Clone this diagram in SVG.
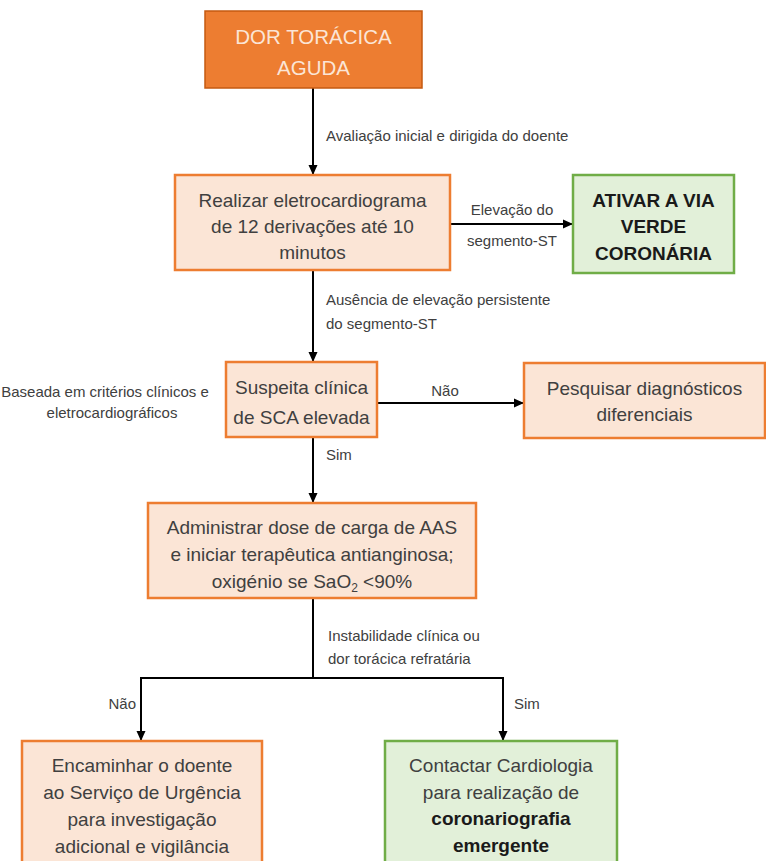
<svg xmlns="http://www.w3.org/2000/svg" width="766" height="861" viewBox="0 0 766 861">
<defs>
<marker id="ah" markerWidth="10" markerHeight="10" refX="9" refY="5" orient="auto" markerUnits="userSpaceOnUse">
<path d="M0,0.5 L10,5 L0,9.5 Z" fill="#000"/>
</marker>
<style>
.or{fill:#FBE5D6;stroke:#ED7D31;stroke-width:2.5}
.gr{fill:#E2F0D9;stroke:#70AD47;stroke-width:2.5}
.t{font-family:"Liberation Sans",Arial,sans-serif;font-size:19px;fill:#404040;text-anchor:middle}
.tb{font-family:"Liberation Sans",Arial,sans-serif;font-size:19px;font-weight:bold;fill:#1a1a1a;text-anchor:middle}
.l{font-family:"Liberation Sans",Arial,sans-serif;font-size:15px;fill:#404040}
.c{fill:none;stroke:#000;stroke-width:2}
</style>
</defs>
<rect width="766" height="861" fill="#fff"/>
<g id="connectors">
<line class="c" x1="313" y1="88" x2="313" y2="174" marker-end="url(#ah)"/>
<line class="c" x1="450" y1="224" x2="572" y2="224" marker-end="url(#ah)"/>
<line class="c" x1="313" y1="270" x2="313" y2="361" marker-end="url(#ah)"/>
<line class="c" x1="377" y1="403" x2="523" y2="403" marker-end="url(#ah)"/>
<line class="c" x1="313" y1="437" x2="313" y2="502" marker-end="url(#ah)"/>
<polyline class="c" points="313,598 313,678"/>
<polyline class="c" points="141,740 141,678 503,678 503,740"/>
<line class="c" x1="141" y1="690" x2="141" y2="740" marker-end="url(#ah)"/>
<line class="c" x1="503" y1="690" x2="503" y2="740" marker-end="url(#ah)"/>
<text class="l" x="326" y="141">Avaliação inicial e dirigida do doente</text>
<text class="l" x="512" y="215" text-anchor="middle">Elevação do</text>
<text class="l" x="512" y="246" text-anchor="middle">segmento-ST</text>
<text class="l" x="326" y="305">Ausência de elevação persistente</text>
<text class="l" x="326" y="329">do segmento-ST</text>
<text class="l" x="445" y="396" text-anchor="middle">Não</text>
<text class="l" x="326" y="460">Sim</text>
<text class="l" x="328" y="641">Instabilidade clínica ou</text>
<text class="l" x="328" y="664">dor torácica refratária</text>
<text class="l" x="136" y="709" text-anchor="end">Não</text>
<text class="l" x="514" y="709">Sim</text>
</g>
<g id="n1">
<rect x="205" y="11" width="217" height="77" fill="#ED7D31" stroke="#C55A11" stroke-width="1.5"/>
<text x="313.5" y="44" font-family="'Liberation Sans',Arial,sans-serif" font-size="20.5" fill="#FBE5D6" text-anchor="middle">DOR TORÁCICA</text>
<text x="313.5" y="75" font-family="'Liberation Sans',Arial,sans-serif" font-size="20.5" fill="#FBE5D6" text-anchor="middle">AGUDA</text>
</g>
<g id="n2">
<rect class="or" x="175" y="175" width="275" height="95"/>
<text class="t" x="312.5" y="207">Realizar eletrocardiograma</text>
<text class="t" x="312.5" y="233">de 12 derivações até 10</text>
<text class="t" x="312.5" y="259">minutos</text>
</g>
<g id="n3">
<rect class="gr" x="573" y="175" width="161" height="98"/>
<text class="tb" x="653.5" y="207">ATIVAR A VIA</text>
<text class="tb" x="653.5" y="233">VERDE</text>
<text class="tb" x="653.5" y="260">CORONÁRIA</text>
</g>
<g id="n4">
<rect class="or" x="226" y="362" width="151" height="75"/>
<text class="t" x="301.5" y="394">Suspeita clínica</text>
<text class="t" x="301.5" y="424">de SCA elevada</text>
</g>
<g id="note">
<text class="l" x="105" y="397" text-anchor="middle">Baseada em critérios clínicos e</text>
<text class="l" x="112" y="418" text-anchor="middle">eletrocardiográficos</text>
</g>
<g id="n5">
<rect class="or" x="524" y="363" width="241" height="75"/>
<text class="t" x="644.5" y="395">Pesquisar diagnósticos</text>
<text class="t" x="644.5" y="421">diferenciais</text>
</g>
<g id="n6">
<rect class="or" x="148" y="503" width="328" height="95"/>
<text class="t" x="312" y="534">Administrar dose de carga de AAS</text>
<text class="t" x="312" y="561">e iniciar terapêutica antianginosa;</text>
<text class="t" x="312" y="588">oxigénio se SaO<tspan font-size="12" dy="4">2</tspan><tspan dy="-4"> &lt;90%</tspan></text>
</g>
<g id="n7">
<rect class="or" x="22" y="741" width="240" height="125"/>
<text class="t" x="142" y="772">Encaminhar o doente</text>
<text class="t" x="142" y="799">ao Serviço de Urgência</text>
<text class="t" x="142" y="826">para investigação</text>
<text class="t" x="142" y="853">adicional e vigilância</text>
</g>
<g id="n8">
<rect class="gr" x="385" y="741" width="232" height="125"/>
<text class="t" x="501" y="772">Contactar Cardiologia</text>
<text class="t" x="501" y="799">para realização de</text>
<text class="tb" x="501" y="825">coronariografia</text>
<text class="tb" x="501" y="852">emergente</text>
</g>
</svg>
